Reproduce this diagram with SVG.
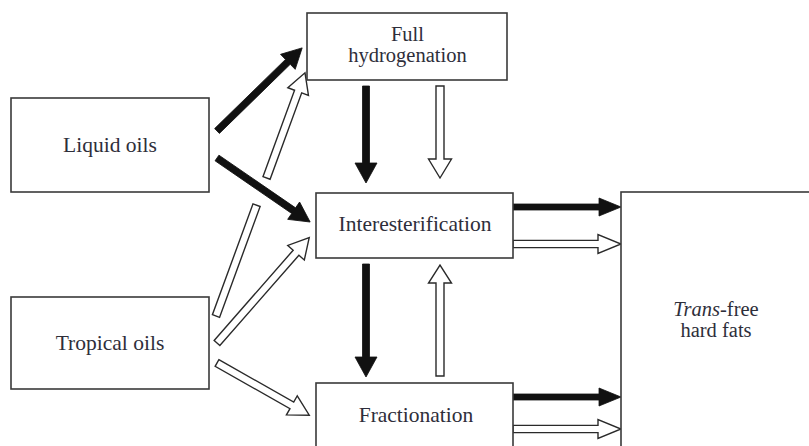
<svg xmlns="http://www.w3.org/2000/svg" width="809" height="446" viewBox="0 0 809 446">
<style>
.box{fill:#fff;stroke:#3a3a3a;stroke-width:1.6}
text{font-family:'Liberation Serif','DejaVu Serif','Times New Roman',serif;font-size:21.5px;fill:#2e2e3a;text-anchor:middle}
text.two{font-size:20.5px}
.blk{fill:#111;stroke:#111;stroke-width:0.8;stroke-linejoin:miter}
.hol{fill:#fff;stroke:#2a2a2a;stroke-width:1.4;stroke-linejoin:miter}
</style>
<rect width="809" height="446" fill="#fff"/>
<g id="connectors">
  <polygon class="blk" transform="translate(217,131) rotate(-44.3)" points="0,-3.4 99,-3.4 99,-10.5 119,0 99,10.5 99,3.4 0,3.4"/>
  <g transform="translate(216,316) rotate(-69.9)">
    <polygon class="hol" points="0,-3.8 118,-3.8 118,3.8 0,3.8"/>
    <polygon class="hol" points="147,-3.8 239,-3.8 239,-11 259,0 239,11 239,3.8 147,3.8"/>
  </g>
  <polygon class="blk" transform="translate(217,158) rotate(34.5)" points="0,-3.4 93,-3.4 93,-10.5 113,0 93,10.5 93,3.4 0,3.4"/>
  <polygon class="hol" transform="translate(217,343) rotate(-48.8)" points="0,-3.8 120,-3.8 120,-11 140,0 120,11 120,3.8 0,3.8"/>
  <polygon class="hol" transform="translate(217,363) rotate(29.5)" points="0,-3.8 86,-3.8 86,-11 106,0 86,11 86,3.8 0,3.8"/>
  <polygon class="blk" transform="translate(366,86) rotate(90)" points="0,-3.5 77,-3.5 77,-11 97,0 77,11 77,3.5 0,3.5"/>
  <polygon class="hol" transform="translate(440,86) rotate(90)" points="0,-4 73,-4 73,-11.5 92,0 73,11.5 73,4 0,4"/>
  <polygon class="blk" transform="translate(366,264) rotate(90)" points="0,-3.5 93,-3.5 93,-11 113,0 93,11 93,3.5 0,3.5"/>
  <polygon class="hol" transform="translate(440,376) rotate(-90)" points="0,-4 93,-4 93,-11.5 111,0 93,11.5 93,4 0,4"/>
  <polygon class="blk" transform="translate(513,207)" points="0,-3 86,-3 86,-9 108,0 86,9 86,3 0,3"/>
  <polygon class="hol" transform="translate(513,244)" points="0,-3.6 85,-3.6 85,-9.5 108,0 85,9.5 85,3.6 0,3.6"/>
  <polygon class="blk" transform="translate(513,397)" points="0,-3 86,-3 86,-9 108,0 86,9 86,3 0,3"/>
  <polygon class="hol" transform="translate(513,429)" points="0,-3.6 85,-3.6 85,-9.5 108,0 85,9.5 85,3.6 0,3.6"/>
</g>
<g id="full-hydrogenation">
  <rect class="box" x="307" y="13" width="200" height="67"/>
  <text class="two" x="407.5" y="41">Full</text>
  <text class="two" x="407.5" y="62">hydrogenation</text>
</g>
<g id="liquid-oils">
  <rect class="box" x="11" y="98" width="198" height="94"/>
  <text x="110" y="152">Liquid oils</text>
</g>
<g id="tropical-oils">
  <rect class="box" x="11" y="297" width="198" height="92"/>
  <text x="110" y="350">Tropical oils</text>
</g>
<g id="interesterification">
  <rect class="box" x="316" y="193" width="197" height="65"/>
  <text x="415" y="231">Interesterification</text>
</g>
<g id="fractionation">
  <rect class="box" x="316" y="383" width="197" height="80"/>
  <text x="416" y="422">Fractionation</text>
</g>
<g id="trans-free-hard-fats">
  <rect class="box" x="621" y="192" width="200" height="270"/>
  <text class="two" x="716" y="316"><tspan font-style="italic">Trans</tspan>-free</text>
  <text class="two" x="716" y="337">hard fats</text>
</g>
</svg>
